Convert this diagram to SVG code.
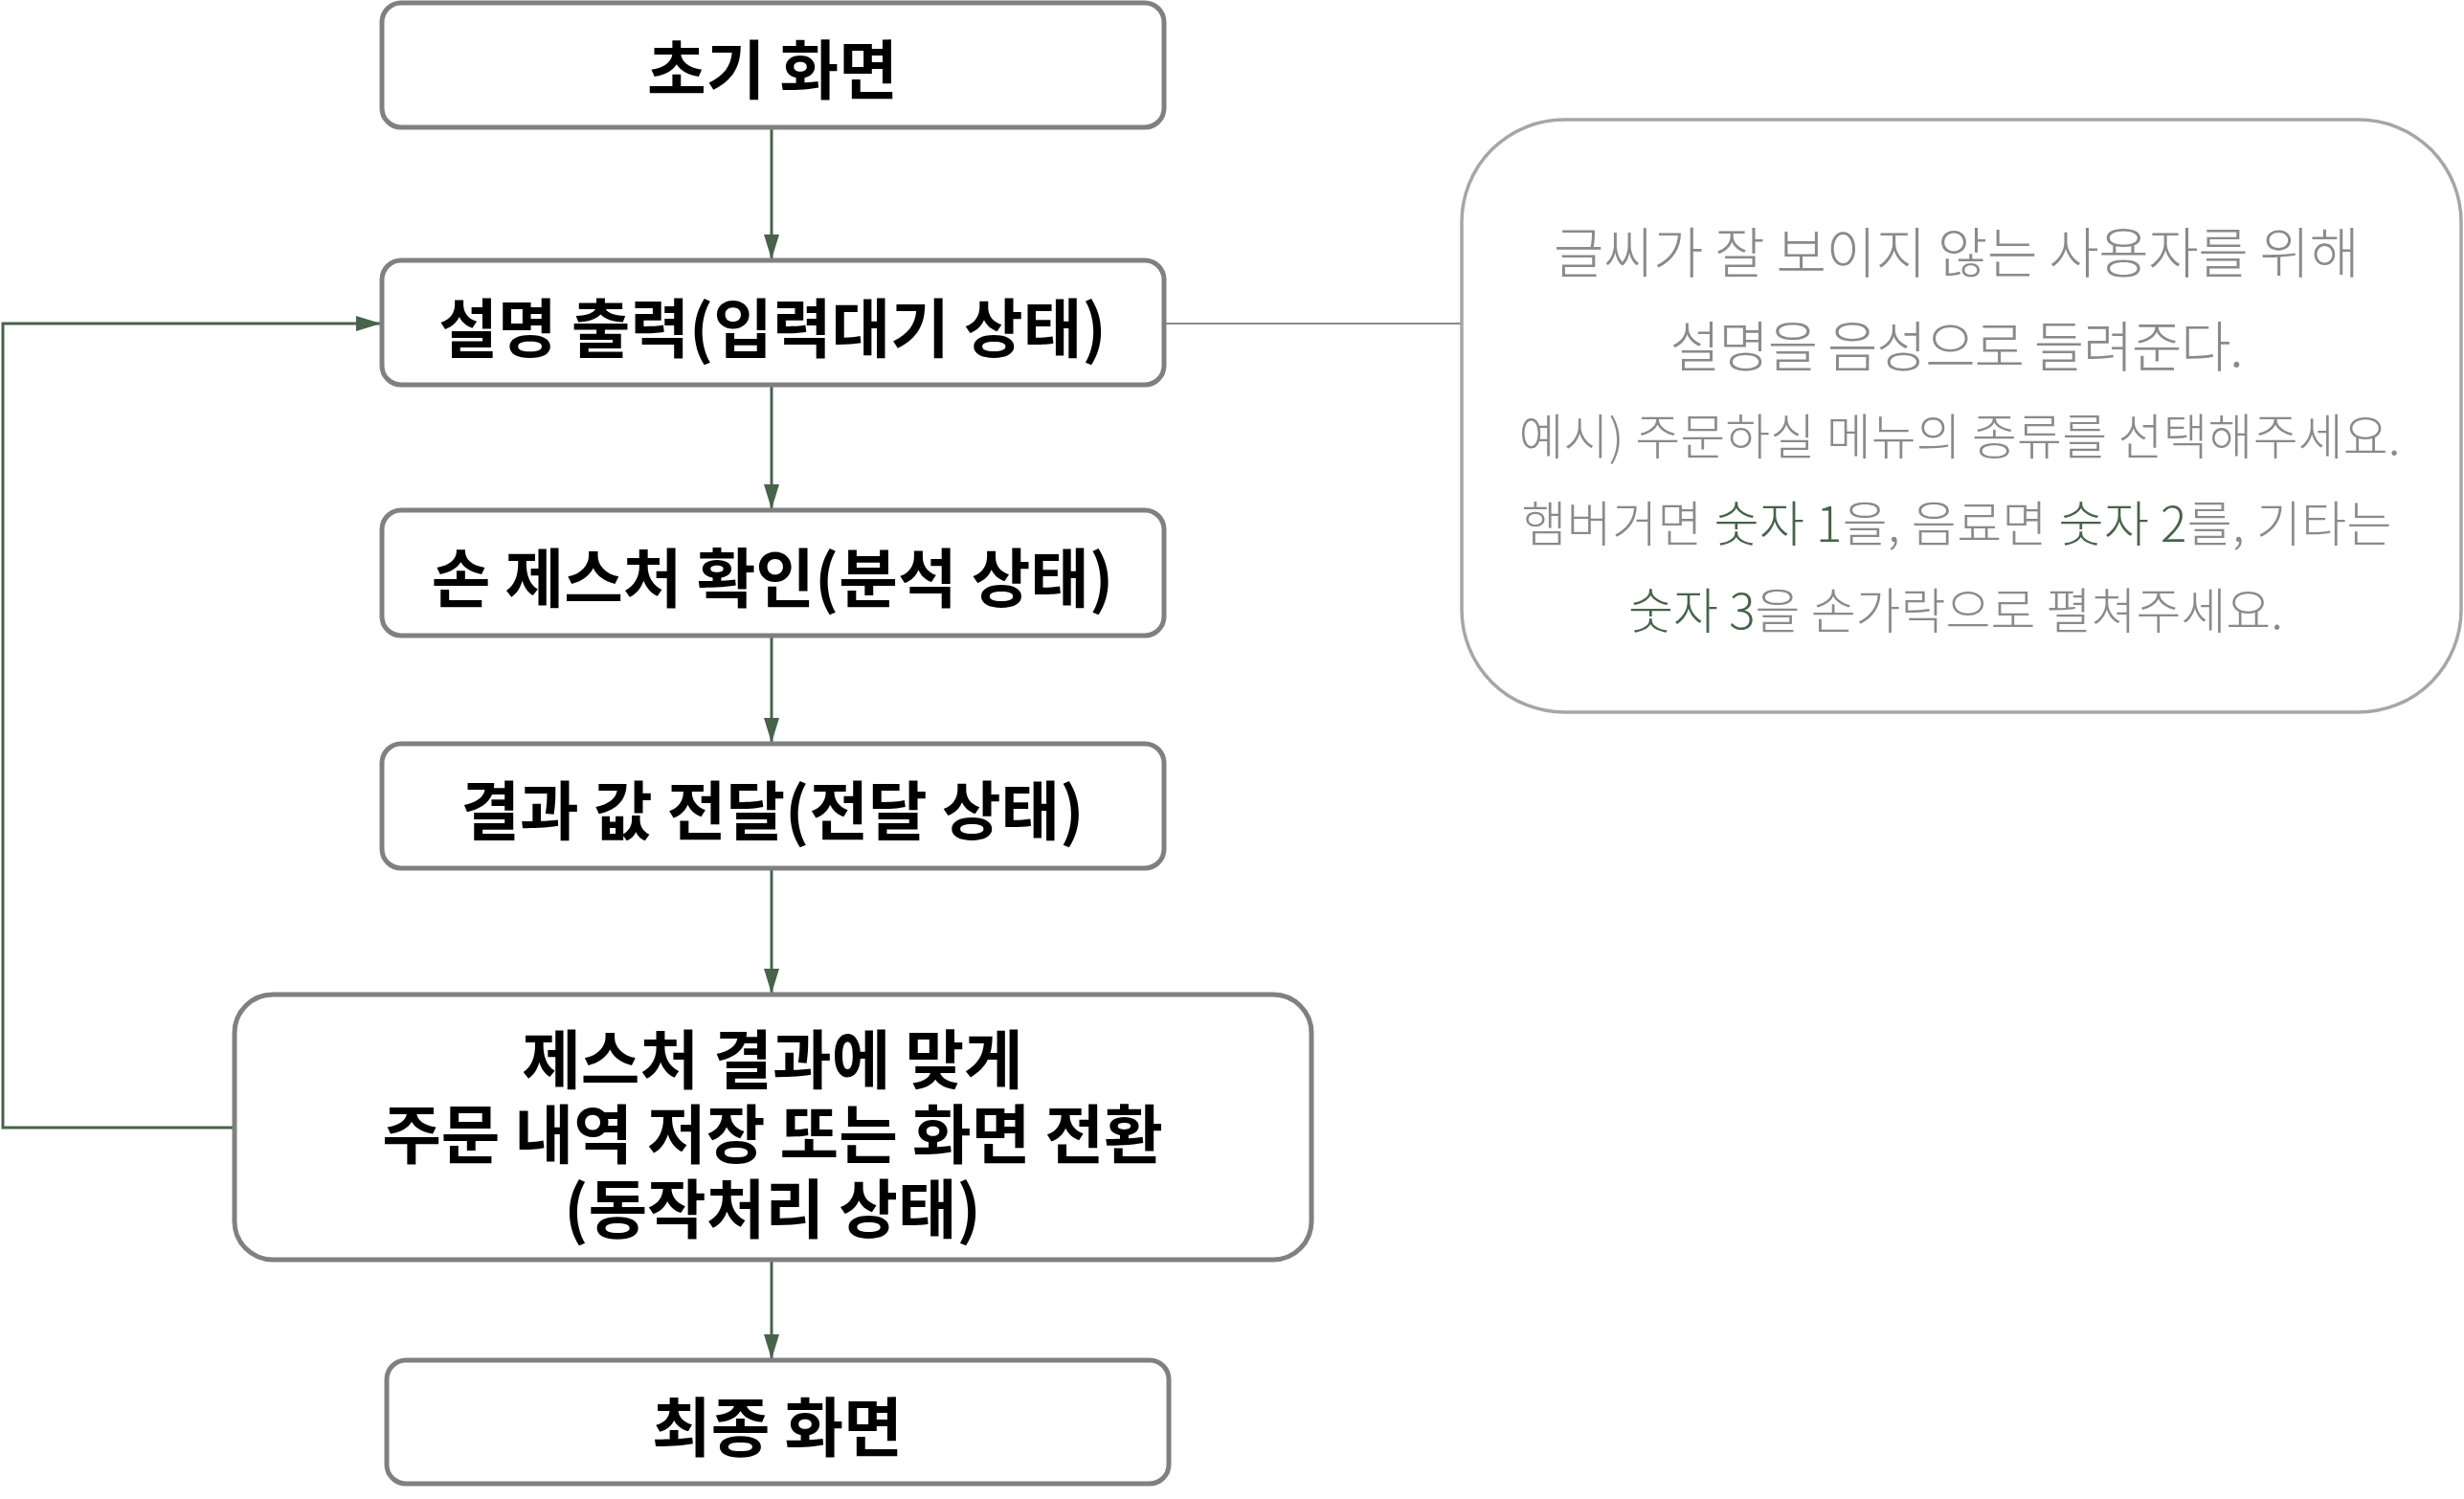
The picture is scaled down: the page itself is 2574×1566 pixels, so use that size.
<svg xmlns="http://www.w3.org/2000/svg" width="2574" height="1566" viewBox="0 0 2574 1566">
<style>
.box{fill:#ffffff;stroke:#808080;stroke-width:5}
.note{fill:#ffffff;stroke:#a6a6a6;stroke-width:3.5}
.t{font-family:"Noto Sans CJK KR","Noto Sans",sans-serif;font-weight:700;font-size:67px;fill:#000000;text-anchor:middle;dominant-baseline:central}
.n{font-family:"Noto Sans CJK KR","Noto Sans",sans-serif;font-weight:300;font-size:51px;fill:#8a8a8a;text-anchor:middle;dominant-baseline:central}
.nl{font-size:57px}
.g{fill:#47634a}
.c{fill:none;stroke:#47634a;stroke-width:3}
.link{fill:none;stroke:#8a8a8a;stroke-width:2}
</style>
<defs>
<marker id="ah" viewBox="0 0 26 16" refX="26" refY="8" markerWidth="26" markerHeight="16" markerUnits="userSpaceOnUse" orient="auto">
<polygon points="0,0 26,8 0,16" fill="#47634a"/>
</marker>
</defs>
<rect width="2574" height="1566" fill="#ffffff"/>
<g id="connectors">
<line class="c" x1="806" y1="133" x2="806" y2="271" marker-end="url(#ah)"/>
<line class="c" x1="806" y1="402" x2="806" y2="532" marker-end="url(#ah)"/>
<line class="c" x1="806" y1="664" x2="806" y2="776" marker-end="url(#ah)"/>
<line class="c" x1="806" y1="907" x2="806" y2="1038" marker-end="url(#ah)"/>
<line class="c" x1="806" y1="1316" x2="806" y2="1420" marker-end="url(#ah)"/>
<polyline class="c" points="245,1178 3,1178 3,338 398,338" marker-end="url(#ah)"/>
<line class="link" x1="1216" y1="338" x2="1527" y2="338"/>
</g>
<g id="node-start">
<rect class="box" x="399" y="3" width="817" height="130" rx="20"/>
<text class="t" x="807" y="68">초기 화면</text>
</g>
<g id="node-explain">
<rect class="box" x="399" y="272" width="817" height="130" rx="20"/>
<text class="t" x="807" y="338">설명 출력(입력대기 상태)</text>
</g>
<g id="node-gesture">
<rect class="box" x="399" y="533" width="817" height="131" rx="20"/>
<text class="t" x="807" y="599">손 제스처 확인(분석 상태)</text>
</g>
<g id="node-result">
<rect class="box" x="399" y="777" width="817" height="130" rx="20"/>
<text class="t" x="807" y="842">결과 값 전달(전달 상태)</text>
</g>
<g id="node-action">
<rect class="box" x="245" y="1039" width="1125" height="277" rx="40"/>
<text class="t"><tspan x="807" y="1102">제스처 결과에 맞게</tspan><tspan x="807" y="1180">주문 내역 저장 또는 화면 전환</tspan><tspan x="807" y="1258">(동작처리 상태)</tspan></text>
</g>
<g id="node-final">
<rect class="box" x="404" y="1421" width="817" height="129" rx="20"/>
<text class="t" x="812" y="1486">최종 화면</text>
</g>
<g id="note">
<rect class="note" x="1527" y="125" width="1044" height="619" rx="107"/>
<text class="n nl" x="2044" y="260" textLength="842" lengthAdjust="spacing">글씨가 잘 보이지 않는 사용자를 위해</text>
<text class="n nl" x="2044" y="358" textLength="599" lengthAdjust="spacing">설명을 음성으로 들려준다.</text>
<text class="n" x="2047" y="453" textLength="921" lengthAdjust="spacing">예시) 주문하실 메뉴의 종류를 선택해주세요.</text>
<text class="n" x="2044" y="544" textLength="909" lengthAdjust="spacing">햄버거면 <tspan class="g">숫자 1</tspan>을, 음료면 <tspan class="g">숫자 2</tspan>를, 기타는</text>
<text class="n" x="2043" y="635" textLength="684" lengthAdjust="spacing"><tspan class="g">숫자 3</tspan>을 손가락으로 펼쳐주세요.</text>
</g>
</svg>
